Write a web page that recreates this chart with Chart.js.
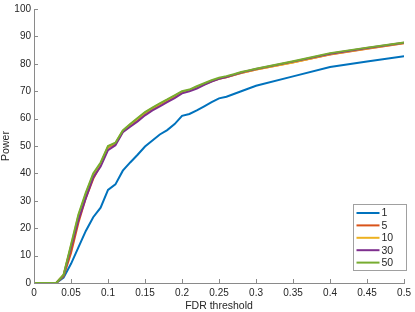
<!DOCTYPE html>
<html>
<head>
<meta charset="utf-8">
<script src="https://cdn.jsdelivr.net/npm/chart.js@4/dist/chart.umd.min.js"></script>
<style>
  html, body { margin: 0; padding: 0; background: #fff; }
  #wrap { width: 415px; height: 312px; }
</style>
</head>
<body>
<div id="wrap"><canvas id="powerChart" width="415" height="312"></canvas></div>
<script>
// FDR threshold vs power, one curve per setting

// x grid: 0.01 steps up to 0.3, then 0.05 steps
const thresholds = [0, 0.01, 0.02, 0.03, 0.04, 0.05, 0.06, 0.07, 0.08, 0.09,
    0.10, 0.11, 0.12, 0.13, 0.14, 0.15, 0.16, 0.17, 0.18, 0.19,
    0.20, 0.21, 0.22, 0.23, 0.24, 0.25, 0.26, 0.27, 0.28, 0.29,
    0.30, 0.35, 0.40, 0.45, 0.50];

const seriesNames = ['1', '5', '10', '30', '50'];

const power1 = [0, 0, 0, 0, 2, 7, 13, 19, 24, 27.5,
    34, 36, 41, 44, 46.8, 49.8, 52, 54.2, 55.8, 58,
    61, 61.7, 63, 64.5, 66, 67.4, 68, 69, 70, 71,
    72, 75.4, 78.8, 80.8, 82.8];
const power5 = [0, 0, 0, 0, 2.5, 11, 22, 31, 38, 43,
    49.5, 50.8, 55.2, 57.5, 59.8, 62, 63.6, 65.2, 66.6, 68,
    69.6, 70.3, 71.4, 72.5, 73.6, 74.5, 75.1, 75.9, 76.6, 77.3,
    77.9, 80.6, 83.4, 85.5, 87.5];
const power10 = [0, 0, 0, 0, 3, 13.5, 24.5, 32.5, 39.5, 43.5,
    49.8, 51, 55.5, 57.8, 60, 62.2, 63.8, 65.4, 66.8, 68.3,
    69.8, 70.4, 71.6, 72.7, 73.8, 74.6, 75.2, 75.9, 76.7, 77.3,
    77.9, 80.5, 83.5, 85.6, 87.6];
const power30 = [0, 0, 0, 0, 2.8, 13, 23, 31, 38.5, 42.5,
    48.5, 50.3, 55, 57, 59, 61.2, 63, 64.5, 66, 67.5,
    69.2, 70, 71, 72.3, 73.5, 74.5, 75.2, 76, 76.8, 77.5,
    78.1, 80.8, 83.7, 85.8, 87.7];
const power50 = [0, 0, 0, 0, 3, 14, 25, 33, 40, 44,
    50, 51.2, 55.7, 58, 60.2, 62.4, 64, 65.6, 67, 68.5,
    70, 70.6, 71.8, 72.9, 74, 74.9, 75.5, 76.2, 77, 77.6,
    78.2, 80.9, 83.9, 85.9, 87.8];

const xTicks = [0, 0.05, 0.1, 0.15, 0.2, 0.25, 0.3, 0.35, 0.4, 0.45, 0.5];
const yTicks = [0, 10, 20, 30, 40, 50, 60, 70, 80, 90, 100];

const colors = ['#0072BD', '#D95319', '#EDB120', '#7E2F8E', '#77AC30'];
const allPower = [power1, power5, power10, power30, power50];

const axisColor = '#8a8a8a';
const textColor = '#262626';
const fontFamily = '"Liberation Sans", Arial, sans-serif';

function toPoints(values) {
    return thresholds.map((t, i) => ({ x: t, y: values[i] }));
}

// inward tick marks, MATLAB style
const innerTicks = {
    id: 'innerTicks',
    afterDatasetsDraw(chart) {
        const ctx = chart.ctx;
        const area = chart.chartArea;
        const xs = chart.scales.x;
        const ys = chart.scales.y;
        ctx.save();
        ctx.strokeStyle = axisColor;
        ctx.lineWidth = 1;
        ctx.beginPath();
        xTicks.forEach(v => {
            const px = Math.round(xs.getPixelForValue(v)) + 0.5;
            ctx.moveTo(px, area.bottom);
            ctx.lineTo(px, area.bottom - 4);
        });
        yTicks.forEach(v => {
            const py = Math.round(ys.getPixelForValue(v)) + 0.5;
            ctx.moveTo(area.left, py);
            ctx.lineTo(area.left + 4, py);
        });
        ctx.stroke();
        ctx.restore();
    }
};

// boxed legend in the lower right corner
const cornerLegend = {
    id: 'cornerLegend',
    afterDraw(chart) {
        const ctx = chart.ctx;
        const sets = chart.data.datasets;
        const boxW = 53, rowH = 12.4;
        const boxH = rowH * sets.length + 4;
        const left = 353.5, top = 204.5;
        ctx.save();
        ctx.fillStyle = '#fff';
        ctx.fillRect(left, top, boxW, boxH);
        ctx.strokeStyle = '#a0a0a0';
        ctx.lineWidth = 1;
        ctx.strokeRect(left, top, boxW, boxH);
        ctx.font = '10.5px ' + fontFamily;
        ctx.textBaseline = 'middle';
        sets.forEach((ds, i) => {
            const cy = top + 8.5 + i * rowH;
            ctx.strokeStyle = ds.borderColor;
            ctx.lineWidth = 2;
            ctx.beginPath();
            ctx.moveTo(left + 3, cy);
            ctx.lineTo(left + 26, cy);
            ctx.stroke();
            ctx.fillStyle = textColor;
            ctx.fillText(ds.label, left + 28, cy + 0.5);
        });
        ctx.restore();
    }
};

// later series drawn on top (lower order = drawn last)
const datasets = seriesNames.map((name, i) => ({
    label: name,
    data: toPoints(allPower[i]),
    borderColor: colors[i],
    backgroundColor: colors[i],
    borderWidth: 2,
    pointRadius: 0,
    tension: 0,
    fill: false,
    order: seriesNames.length - i
}));

new Chart(document.getElementById('powerChart').getContext('2d'), {
    type: 'line',
    data: { datasets: datasets },
    options: {
        responsive: false,
        animation: false,
        layout: { padding: { top: 5, right: 10, left: 0, bottom: 0 } },
        plugins: {
            legend: { display: false },
            tooltip: { enabled: false }
        },
        scales: {
            x: {
                type: 'linear',
                min: 0,
                max: 0.5,
                afterBuildTicks: s => { s.ticks = xTicks.map(v => ({ value: v })); },
                afterFit: s => { s.height = 29; },
                grid: { display: false, drawTicks: false },
                border: { display: true, color: axisColor, width: 1 },
                ticks: {
                    color: textColor,
                    padding: 4,
                    maxRotation: 0,
                    autoSkip: false,
                    font: { family: fontFamily, size: 10 },
                    callback: v => String(v)
                },
                title: {
                    display: true,
                    text: 'FDR threshold',
                    color: textColor,
                    padding: { top: 1, bottom: 0 },
                    font: { family: fontFamily, size: 10.5 }
                }
            },
            y: {
                min: 0,
                max: 100,
                afterBuildTicks: s => { s.ticks = yTicks.map(v => ({ value: v })); },
                afterFit: s => { s.width = 34; },
                grid: { display: false, drawTicks: false },
                border: { display: true, color: axisColor, width: 1 },
                ticks: {
                    color: textColor,
                    padding: 3,
                    autoSkip: false,
                    font: { family: fontFamily, size: 10 }
                },
                title: {
                    display: true,
                    text: 'Power',
                    color: textColor,
                    padding: { top: 0, bottom: 0 },
                    font: { family: fontFamily, size: 10.5 }
                }
            }
        }
    },
    plugins: [innerTicks, cornerLegend]
});
</script>
</body>
</html>
